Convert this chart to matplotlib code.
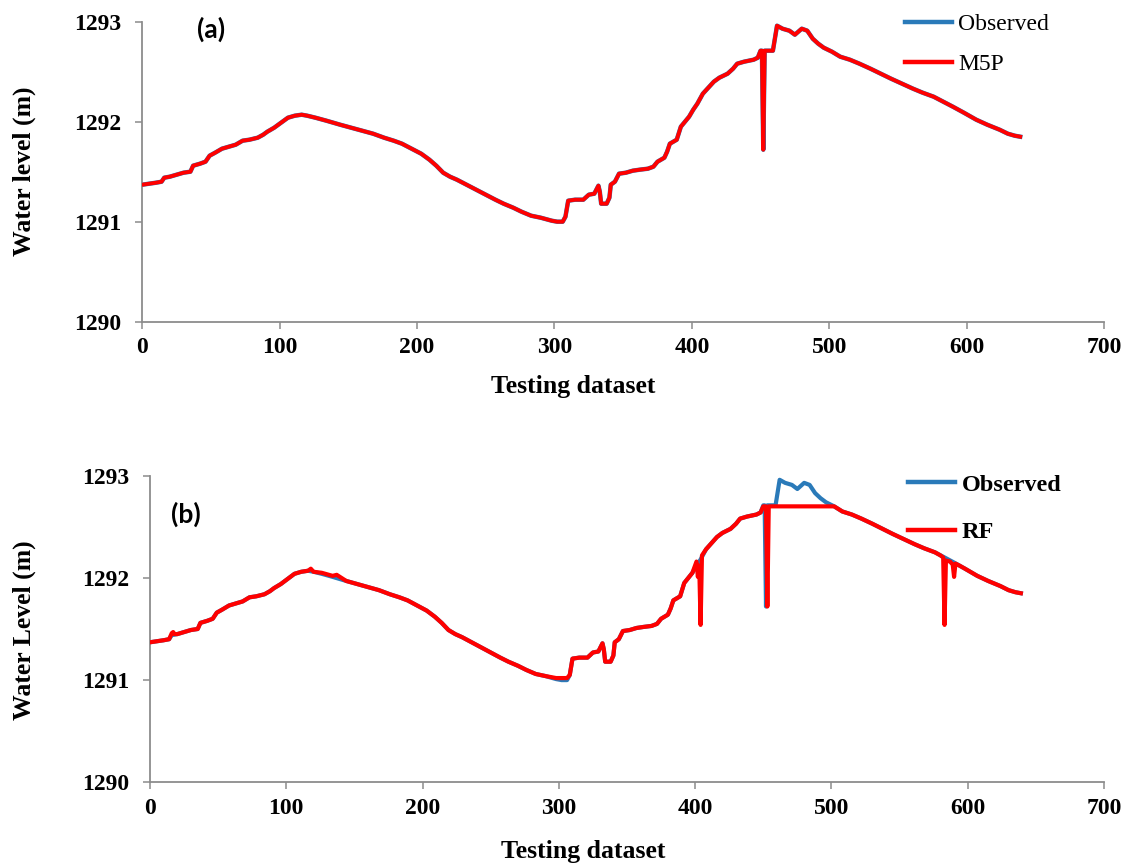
import matplotlib
matplotlib.use("Agg")
import matplotlib.pyplot as plt
from matplotlib.lines import Line2D

# ---------------- data ----------------
obs_x = [0, 5, 10, 14, 16, 20, 25, 30, 35, 37, 42, 46, 49, 53, 58, 63, 68, 73, 78, 84,
         88, 91, 96, 101, 106, 111, 116, 120, 126, 134, 144, 152, 160, 168, 176, 183, 189,
         196, 203, 209, 214, 219, 224, 229, 236, 243, 250, 257, 263, 270, 276, 283, 290,
         298, 302, 306, 308, 310, 315, 321, 325, 329, 332, 333, 334, 338, 340, 341, 344,
         347, 352, 357, 362, 368, 372, 375, 380, 382, 384, 389, 392, 395, 398, 401, 404,
         408, 412, 416, 420, 426, 430, 433, 438, 445, 448, 450, 451, 452, 453, 459, 462,
         466, 471, 475, 480, 484, 488, 492, 496, 502, 508, 515, 522, 530, 539, 545, 553,
         561, 568, 576, 583, 590, 598, 607, 615, 624, 630, 635, 639]
obs_y = [1291.37, 1291.38, 1291.39, 1291.40, 1291.44, 1291.45, 1291.47, 1291.49, 1291.50,
         1291.56, 1291.58, 1291.60, 1291.66, 1291.69, 1291.73, 1291.75, 1291.77, 1291.81,
         1291.82, 1291.84, 1291.87, 1291.90, 1291.94, 1291.99, 1292.04, 1292.06, 1292.07,
         1292.06, 1292.04, 1292.01, 1291.97, 1291.94, 1291.91, 1291.88, 1291.84, 1291.81,
         1291.78, 1291.73, 1291.68, 1291.62, 1291.56, 1291.49, 1291.45, 1291.42, 1291.37,
         1291.32, 1291.27, 1291.22, 1291.18, 1291.14, 1291.10, 1291.06, 1291.04, 1291.01,
         1291.00, 1291.00, 1291.05, 1291.21, 1291.22, 1291.22, 1291.27, 1291.28, 1291.36,
         1291.30, 1291.18, 1291.18, 1291.24, 1291.37, 1291.40, 1291.48, 1291.49, 1291.51,
         1291.52, 1291.53, 1291.55, 1291.60, 1291.64, 1291.70, 1291.78, 1291.82, 1291.95,
         1292.00, 1292.05, 1292.12, 1292.18, 1292.28, 1292.34, 1292.40, 1292.44, 1292.48,
         1292.53, 1292.58, 1292.60, 1292.62, 1292.64, 1292.71, 1292.71, 1291.72, 1292.71,
         1292.71, 1292.96, 1292.93, 1292.91, 1292.87, 1292.93, 1292.91, 1292.83, 1292.78,
         1292.74, 1292.70, 1292.65, 1292.62, 1292.58, 1292.53, 1292.47, 1292.43, 1292.38,
         1292.33, 1292.29, 1292.25, 1292.20, 1292.15, 1292.09, 1292.02, 1291.97, 1291.92,
         1291.88, 1291.86, 1291.85]

# M5P prediction (practically identical to observations)
m5p_x = list(obs_x)
m5p_y = list(obs_y)

# RF prediction
rf_x = [0, 5, 10, 14, 16, 17, 18, 20, 25, 30, 35, 37, 42, 46, 49, 53, 58, 63, 68, 73, 78,
        84, 88, 91, 96, 101, 106, 111, 116, 118, 120, 126, 134, 137, 144, 152, 160, 168,
        176, 183, 189, 196, 203, 209, 214, 219, 224, 229, 236, 243, 250, 257, 263, 270,
        276, 283, 290, 298, 302, 306, 308, 310, 315, 321, 325, 329, 332, 333, 334, 338,
        340, 341, 344, 347, 352, 357, 362, 368, 372, 375, 380, 382, 384, 389, 392, 395,
        398, 401, 402, 403, 404, 405, 408, 412, 416, 420, 426, 430, 433, 438, 445, 448,
        450, 452, 453, 454, 500, 502, 508, 515, 522, 530, 539, 545, 553, 561, 568, 576,
        580, 582, 583, 584, 587, 589, 590, 591, 594, 598, 607, 615, 624, 630, 635, 639]
rf_y = [1291.37, 1291.38, 1291.39, 1291.40, 1291.46, 1291.47, 1291.45, 1291.45, 1291.47,
        1291.49, 1291.50, 1291.56, 1291.58, 1291.60, 1291.66, 1291.69, 1291.73, 1291.75,
        1291.77, 1291.81, 1291.82, 1291.84, 1291.87, 1291.90, 1291.94, 1291.99, 1292.04,
        1292.06, 1292.07, 1292.09, 1292.06, 1292.05, 1292.02, 1292.03, 1291.97, 1291.94,
        1291.91, 1291.88, 1291.84, 1291.81, 1291.78, 1291.73, 1291.68, 1291.62, 1291.56,
        1291.49, 1291.45, 1291.42, 1291.37, 1291.32, 1291.27, 1291.22, 1291.18, 1291.14,
        1291.10, 1291.06, 1291.04, 1291.02, 1291.02, 1291.02, 1291.05, 1291.21, 1291.22,
        1291.22, 1291.27, 1291.28, 1291.36, 1291.30, 1291.18, 1291.18, 1291.24, 1291.37,
        1291.40, 1291.48, 1291.49, 1291.51, 1291.52, 1291.53, 1291.55, 1291.60, 1291.64,
        1291.70, 1291.78, 1291.82, 1291.95, 1292.00, 1292.05, 1292.16, 1292.01, 1292.12,
        1291.54, 1292.22, 1292.28, 1292.34, 1292.40, 1292.44, 1292.48, 1292.53, 1292.58,
        1292.60, 1292.62, 1292.64, 1292.70, 1292.70, 1291.72, 1292.70, 1292.70, 1292.70,
        1292.65, 1292.62, 1292.58, 1292.53, 1292.47, 1292.43, 1292.38, 1292.33, 1292.29,
        1292.25, 1292.22, 1292.20, 1291.54, 1292.17, 1292.16, 1292.13, 1292.01, 1292.14,
        1292.12, 1292.09, 1292.02, 1291.97, 1291.92, 1291.88, 1291.86, 1291.85]

x_ticks = [0, 100, 200, 300, 400, 500, 600, 700]
y_ticks = [1290, 1291, 1292, 1293]

BLUE = "#2a7ab9"
RED = "#ff0000"
GRAY = "#8c8c8c"
SERIF = "Liberation Serif"

W, H = 1128, 863
fig = plt.figure(figsize=(W / 100, H / 100), dpi=100)


def px_ax(l, t, r, b):
    return fig.add_axes([l / W, 1 - b / H, (r - l) / W, (b - t) / H])


ax1 = px_ax(142.3, 21.7, 1104, 321.7)
ax2 = px_ax(150, 475.7, 1104, 782.3)

for ax in (ax1, ax2):
    ax.set_xlim(0, 700)
    ax.set_ylim(1290, 1293)
    ax.set_xticks(x_ticks)
    ax.set_yticks(y_ticks)
    ax.set_xticklabels([str(v) for v in x_ticks], fontfamily=SERIF, fontweight="bold", fontsize=17)
    ax.set_yticklabels([str(v) for v in y_ticks], fontfamily=SERIF, fontweight="bold", fontsize=17)
    for s in ("top", "right"):
        ax.spines[s].set_visible(False)
    for s in ("left", "bottom"):
        ax.spines[s].set_color(GRAY)
        ax.spines[s].set_linewidth(1.3)
    ax.tick_params(axis="both", direction="out", length=5, width=1.1, color=GRAY)
    ax.tick_params(axis="x", pad=6)
    ax.tick_params(axis="y", pad=10)
    ax.patch.set_alpha(0)

# top panel
ax1.plot(obs_x, obs_y, color=BLUE, lw=3.2, solid_joinstyle="round", zorder=2)
ax1.plot(m5p_x, m5p_y, color=RED, lw=2.8, solid_joinstyle="round", zorder=3)
# bottom panel
ax2.plot(obs_x, obs_y, color=BLUE, lw=3.0, solid_joinstyle="round", zorder=2)
ax2.plot(rf_x, rf_y, color=RED, lw=3.0, solid_joinstyle="round", zorder=3)

# legends
h_obs = Line2D([], [], color=BLUE, lw=3.2)
h_red = Line2D([], [], color=RED, lw=3.2)
fig.legend([h_obs, h_red], ["Observed", "M5P"], loc="upper left",
           bbox_to_anchor=(905 / W, 1 - 13.5 / H), frameon=False, borderpad=0,
           borderaxespad=0, handlelength=2.0, handletextpad=0.25, labelspacing=0.8,
           prop={"family": SERIF, "size": 17})
fig.legend([h_obs, h_red], ["Observed", "RF"], loc="upper left",
           bbox_to_anchor=(908 / W, 1 - 473.5 / H), frameon=False, borderpad=0,
           borderaxespad=0, handlelength=1.95, handletextpad=0.25, labelspacing=1.05,
           prop={"family": SERIF, "size": 17.5, "weight": "bold"})

# panel tags
fig.text(197 / W, 1 - 29 / H, "(a)", family="Lato", fontweight="bold", fontsize=19,
         ha="left", va="center")
fig.text(171 / W, 1 - 514 / H, "(b)", family="Lato", fontweight="bold", fontsize=19,
         ha="left", va="center")

# axis labels
fig.text(24 / W, 1 - 171 / H, "Water level (m)", family=SERIF, fontweight="bold",
         fontsize=18.5, rotation=90, ha="center", va="center")
fig.text(24 / W, 1 - 630 / H, "Water Level (m)", family=SERIF, fontweight="bold",
         fontsize=18.5, rotation=90, ha="center", va="center")
fig.text(573 / W, 1 - 393 / H, "Testing dataset", family=SERIF, fontweight="bold",
         fontsize=18.5, ha="center", va="baseline")
fig.text(583 / W, 1 - 858 / H, "Testing dataset", family=SERIF, fontweight="bold",
         fontsize=18.5, ha="center", va="baseline")

fig.savefig("out.png", dpi=100)
